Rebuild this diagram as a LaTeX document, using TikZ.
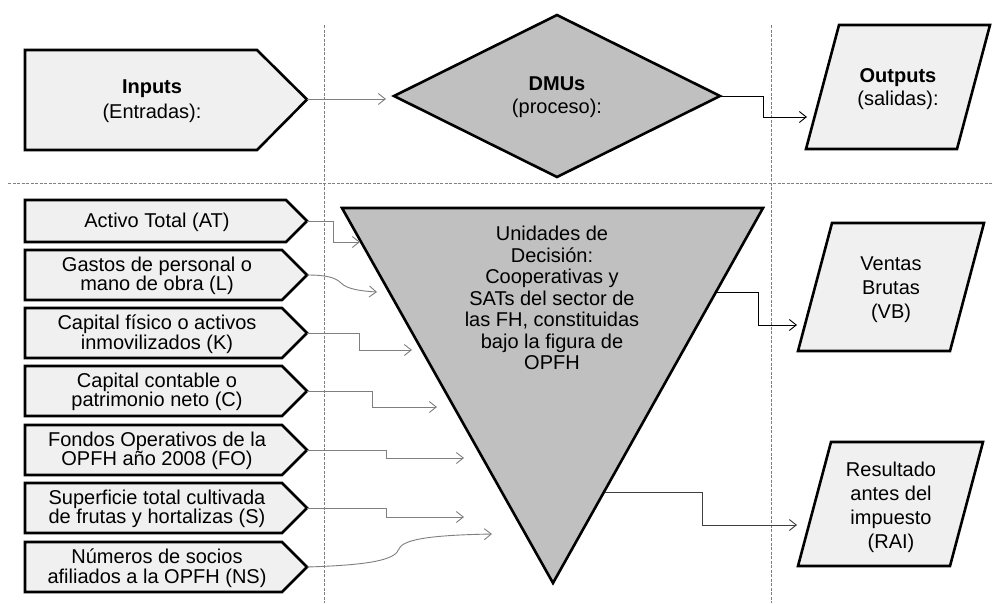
\documentclass[tikz,border=0pt]{standalone}
\usepackage{fontspec}
\setmainfont{Liberation Sans}
\usetikzlibrary{arrows.meta}
\definecolor{boxfill}{HTML}{F0F0F0}
\definecolor{dmufill}{HTML}{C0C0C0}
\definecolor{conngray}{HTML}{7F7F7F}
\begin{document}
\begin{tikzpicture}[x=1pt,y=-1pt,
  shapebox/.style={draw=black, line width=2.6pt, line join=miter, fill=boxfill},
  dmubox/.style={draw=black, line width=2.6pt, line join=miter, fill=dmufill},
  txt/.style={font=\fontsize{20}{19.5}\selectfont, align=center, inner sep=0pt},
  inconn/.style={draw=conngray, line width=0.9pt, -{Straight Barb[length=7pt,width=11pt]}},
  outconn/.style={draw=black, line width=0.9pt, -{Straight Barb[length=7pt,width=11pt]}},
  sepline/.style={draw=gray, line width=0.8pt, dash pattern=on 3pt off 1.5pt}]
\useasboundingbox (0,0) rectangle (992,603);
\fill[white] (0,0) rectangle (992,603);

% separators
\draw[sepline] (8,183) -- (992,183);
\draw[sepline] (324,25) -- (324,603);
\draw[sepline] (771,25) -- (771,603);

% ---------- top row ----------
\draw[shapebox] (25,50) -- (257,50) -- (307,99.5) -- (257,150) -- (25,150) -- cycle;
\coordinate (inT) at (307,99);
\node[txt, font=\fontsize{20}{25}\selectfont] (inputs) at (152,101) {\textbf{Inputs}\\(Entradas):};

\draw[dmubox] (394,96) -- (557,15) -- (720,96) -- (557,177) -- cycle;
\coordinate (dmuL) at (386,99);
\coordinate (dmuR) at (720,96);
\node[txt, font=\fontsize{20}{23}\selectfont] (dmus) at (557,97) {\textbf{DMUs}\\(proceso):};

\draw[shapebox] (806,149) -- (839,25) -- (990,25) -- (957,149) -- cycle;
\coordinate (outL) at (807,117);
\node[txt, font=\fontsize{20}{23}\selectfont] (outputs) at (898,89) {\textbf{Outputs}\\(salidas):};

\draw[inconn] (inT) -- (dmuL);
\draw[outconn] (dmuR) -- (763,96) -- (763,117) -- (outL);

% ---------- inputs ----------
\draw[shapebox] (25,200) -- (286,200) -- (307,221) -- (286,242) -- (25,242) -- cycle;
\node[txt] (at) at (157,222) {Activo Total (AT)};
\draw[shapebox] (25,250) -- (282,250) -- (307,275) -- (282,300) -- (25,300) -- cycle;
\node[txt] (l) at (157,276) {Gastos de personal o\\mano de obra (L)};
\draw[shapebox] (25,308) -- (282,308) -- (307,333) -- (282,358) -- (25,358) -- cycle;
\node[txt] (k) at (157,334) {Capital físico o activos\\inmovilizados (K)};
\draw[shapebox] (25,366) -- (282,366) -- (307,391) -- (282,416) -- (25,416) -- cycle;
\node[txt] (c) at (157,392) {Capital contable o\\patrimonio neto (C)};
\draw[shapebox] (25,425) -- (282,425) -- (307,450) -- (282,475) -- (25,475) -- cycle;
\node[txt] (fo) at (157,451) {Fondos Operativos de la\\OPFH año 2008 (FO)};
\draw[shapebox] (25,483) -- (282,483) -- (307,508) -- (282,533) -- (25,533) -- cycle;
\node[txt] (s) at (157,509) {Superficie total cultivada\\de frutas y hortalizas (S)};
\draw[shapebox] (25,542) -- (282,542) -- (307,567) -- (282,592) -- (25,592) -- cycle;
\node[txt] (ns) at (157,568) {Números de socios\\afiliados a la OPFH (NS)};

\coordinate (atT) at (307,221);
\coordinate (lT) at (307,275);
\coordinate (kT) at (307,333);
\coordinate (cT) at (307,391);
\coordinate (foT) at (307,450);
\coordinate (sT) at (307,508);
\coordinate (nsT) at (307,567);

% ---------- DMU triangle ----------
\draw[dmubox] (342,208) -- (763,208) -- (553,583) -- cycle;
\node[txt, font=\fontsize{20}{21.5}\selectfont] (dmu) at (552,298)
  {Unidades de\\Decisión:\\Cooperativas y\\SATs del sector de\\las FH, constituidas\\bajo la figura de\\OPFH};
\coordinate (e1) at (360,242);
\coordinate (e2) at (377,292);
\coordinate (e3) at (412,350);
\coordinate (e4) at (437,407);
\coordinate (e5) at (464,458);
\coordinate (e6) at (464,517);
\coordinate (e7) at (492,534);
\coordinate (vbS) at (716,292);
\coordinate (raiS) at (605,492);

\draw[inconn] (atT) -- (333,221) -- (333,242) -- (e1);
\draw[inconn] (lT) .. controls (325,275) and (335,277) .. (341,283) .. controls (347,289) and (360,291) .. (e2);
\draw[inconn] (kT) -- (359,333) -- (359,350) -- (e3);
\draw[inconn] (cT) -- (372,391) -- (372,407) -- (e4);
\draw[inconn] (foT) -- (386,450) -- (386,458) -- (e5);
\draw[inconn] (sT) -- (386,508) -- (386,517) -- (e6);
\draw[inconn] (nsT) .. controls (370,565) and (395,560) .. (399,549) .. controls (403,538) and (440,535) .. (e7);

% ---------- outputs ----------
\draw[shapebox] (798,351) -- (832,223) -- (984,223) -- (950,351) -- cycle;
\node[txt, font=\fontsize{20}{24}\selectfont] (vb) at (891,290) {Ventas\\Brutas\\(VB)};
\draw[shapebox] (798,566) -- (831,442) -- (983,442) -- (950,566) -- cycle;
\node[txt, font=\fontsize{20}{24}\selectfont] (rai) at (891,507) {Resultado\\antes del\\impuesto\\(RAI)};
\coordinate (vbL) at (797,325);
\coordinate (raiL) at (797,525);

\draw[outconn] (vbS) -- (758,292) -- (758,325) -- (vbL);
\draw[outconn, draw=black!75] (raiS) -- (702,492) -- (702,525) -- (raiL);
\end{tikzpicture}
\end{document}
